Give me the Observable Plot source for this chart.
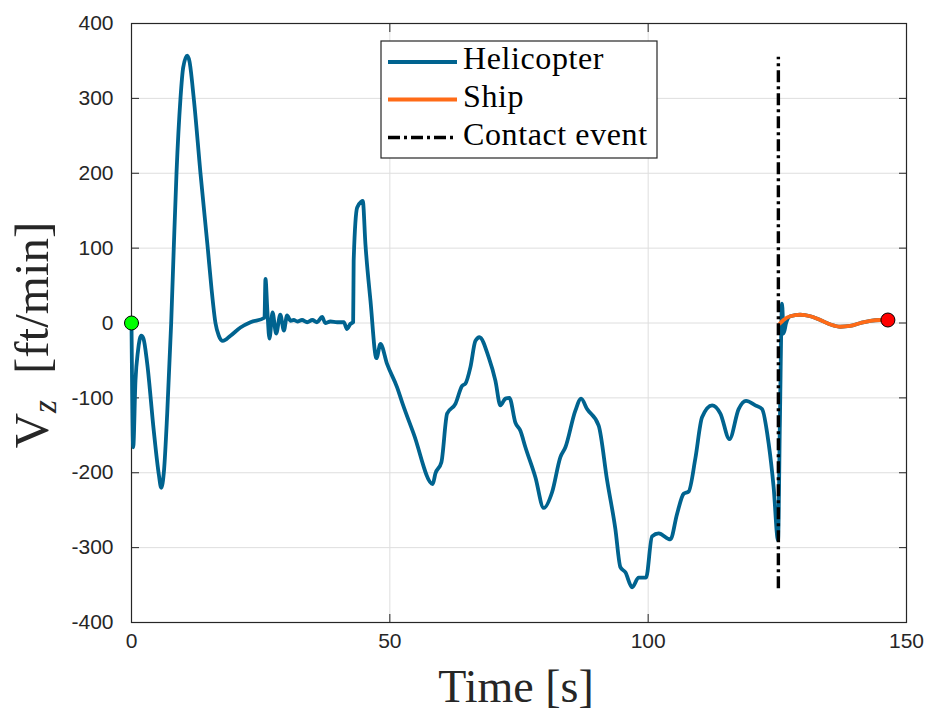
<!DOCTYPE html>
<html>
<head>
<meta charset="utf-8">
<script src="https://cdn.jsdelivr.net/npm/d3@7"></script>
<script src="https://cdn.jsdelivr.net/npm/@observablehq/plot@0.6"></script>
<style>
  html, body { margin: 0; padding: 0; background: #fff; }
  #chart { width: 928px; height: 716px; }
</style>
</head>
<body>
<div id="chart"></div>
<script>
// ---- Data ----
const heliTime = [
  0,0.33,0.77,1.26,1.88,2.32,3.04,4.31,5.28,5.75,
  6.29,6.91,7.68,8.18,8.71,9.48,10.0,10.78,11.2,12.05,
  13.35,14.76,15.5,16.25,16.9,17.67,19.16,21.09,23.03,25.74,
  25.93,26.3,26.7,27.3,28.0,28.8,29.5,30.1,30.8,31.4,
  32.1,33.0,34.0,35.0,35.9,36.9,37.5,38.5,39.8,41.1,
  41.7,42.4,42.9,43.0,43.67,44.45,44.76,45.28,46.25,47.41,
  48.18,49.48,51.41,52.38,54.62,58.30,58.82,59.98,61.09,62.69,
  63.99,64.63,65.60,66.56,67.34,69.14,70.43,71.40,72.37,73.14,
  74.30,75.27,76.24,78.17,79.78,81.40,83.01,83.98,85.91,87.02,
  88.18,90.42,92.05,93.65,94.62,95.59,96.89,98.16,99.59,100.75,
  102.03,104.30,105.59,106.87,107.84,109.13,110.43,112.37,113.98,115.73,
  117.51,118.94,120.74,122.04,123.32,124.28,125.13,125.5,125.91,126.22,
  126.7,127.5,129.4,131.4,133.3,135.3,137.2,139.1,141.1,143.0,
  144.9,146.4
];
const heliVz = [
  0,-166,-77,-37,-17,-21,-54,-144,-202,-220,
  -197,-121,0,100,200,300,341,357,350,300,
  200,100,45,0,-17,-24,-17,-6,1,7,
  59,16,-21,14,-14,11,-10,10,3,4,
  2,4,1,4,1,8,0,2,1,1,
  -8,-1,1,83,154,162,163,105,30,-47,
  -28,-55,-86,-106,-148,-215,-201,-186,-121,-108,
  -84,-81,-59,-24,-19,-46,-77,-110,-101,-100,
  -133,-144,-166,-206,-247,-226,-179,-166,-117,-101,
  -115,-137,-210,-275,-326,-333,-353,-340,-340,-285,
  -281,-289,-255,-228,-225,-181,-126,-110,-121,-155,
  -115,-104,-110,-115,-161,-219,-290,-130,26,-14,
  0,9,11,9,4,-2,-5,-4,0,3,
  4,4
];
const shipTime = [125.45,126.2,127.5,129.4,131.4,133.3,135.3,137.2,139.1,141.1,143.0,144.9,146.4];
const shipVz   = [-1,4,9,11,9,4,-2,-5,-4,0,3,4,4];

const contactTime = 125.2;
const contactVzRange = [-355, 355];

const startPoint = {t: 0, v: 0};
const endPoint = {t: 146.4, v: 4};

const xTicks = [0, 50, 100, 150];
const yTicks = [-400, -300, -200, -100, 0, 100, 200, 300, 400];

const seriesNames = ["Helicopter", "Ship", "Contact event"];
const colors = {heli: "#00638f", ship: "#ff6b17", contact: "#000000"};

// ---- Build tables ----
const heli = heliTime.map((t, i) => ({t, v: heliVz[i]}));
const ship = shipTime.map((t, i) => ({t, v: shipVz[i]}));

const axisColor = "#262626";
const sans = "'Liberation Sans', Arial, Helvetica, sans-serif";
const serif = "'Liberation Serif', 'Times New Roman', serif";
const fmt = d => String(d);

const plot = Plot.plot({
  width: 928,
  height: 716,
  marginLeft: 131,
  marginRight: 22,
  marginTop: 23,
  marginBottom: 94,
  style: {fontFamily: sans, fontSize: "21px", color: axisColor, background: "#fff", overflow: "visible"},
  x: {domain: [0, 150]},
  y: {domain: [-400, 400]},
  marks: [
    Plot.gridX(xTicks, {stroke: "#dedede", strokeOpacity: 1}),
    Plot.gridY(yTicks, {stroke: "#dedede", strokeOpacity: 1}),
    Plot.frame({stroke: axisColor, strokeWidth: 1.2}),
    // tick labels
    Plot.axisY(yTicks, {anchor: "left", tickSize: 0, tickPadding: 18, label: null, fill: axisColor, tickFormat: fmt}),
    Plot.axisX(xTicks, {anchor: "bottom", tickSize: 0, tickPadding: 11, label: null, fill: axisColor, tickFormat: fmt}),
    // inward ticks on all four sides
    Plot.axisY(yTicks, {anchor: "left", tickSize: 8, dx: 8, fill: "none", label: null, stroke: axisColor}),
    Plot.axisY(yTicks, {anchor: "right", tickSize: 8, dx: -8, fill: "none", label: null, stroke: axisColor}),
    Plot.axisX(xTicks, {anchor: "bottom", tickSize: 8, dy: -8, fill: "none", label: null, stroke: axisColor}),
    Plot.axisX(xTicks, {anchor: "top", tickSize: 8, dy: 8, fill: "none", label: null, stroke: axisColor}),
    // series
    Plot.line(heli, {x: "t", y: "v", stroke: colors.heli, strokeWidth: 3.8, curve: "monotone-x"}),
    Plot.line(ship, {x: "t", y: "v", stroke: colors.ship, strokeWidth: 3.8, curve: "monotone-x"}),
    Plot.ruleX([contactTime], {y1: contactVzRange[0], y2: contactVzRange[1], stroke: colors.contact, strokeWidth: 3.4, strokeDasharray: "12,4,3,4"}),
    Plot.dot([startPoint], {x: "t", y: "v", r: 7, fill: "#00ff00", stroke: "#000", strokeWidth: 1}),
    Plot.dot([endPoint], {x: "t", y: "v", r: 7, fill: "#ff0000", stroke: "#000", strokeWidth: 1})
  ]
});

document.getElementById("chart").appendChild(plot);

// ---- Axis titles and legend (real SVG text) ----
const svg = d3.select(plot);

// y label: V_z [ft/min]
const yl = svg.append("text")
  .attr("transform", "translate(48,335) rotate(-90)")
  .attr("text-anchor", "middle")
  .attr("font-family", serif)
  .attr("font-size", 49)
  .attr("fill", axisColor);
yl.append("tspan").text("V");
yl.append("tspan").attr("font-size", 33).attr("font-style", "italic").attr("dy", 8).text("z");
yl.append("tspan").attr("dy", -8).attr("dx", 26).text("[ft/min]");

// x label
svg.append("text")
  .attr("x", 516)
  .attr("y", 702)
  .attr("text-anchor", "middle")
  .attr("font-family", serif)
  .attr("font-size", 46)
  .attr("fill", axisColor)
  .text("Time [s]");

// legend
const lg = svg.append("g").attr("text-anchor", "start");
lg.append("rect")
  .attr("x", 381).attr("y", 41).attr("width", 276).attr("height", 117)
  .attr("fill", "#fff").attr("stroke", axisColor).attr("stroke-width", 1.2);
const legendRows = [
  {name: seriesNames[0], color: colors.heli, dash: null, ly: 62, ty: 69},
  {name: seriesNames[1], color: colors.ship, dash: null, ly: 99.5, ty: 107},
  {name: seriesNames[2], color: colors.contact, dash: "12,4,3,4", ly: 137.5, ty: 145}
];
legendRows.forEach(r => {
  const ln = lg.append("line")
    .attr("x1", 388).attr("x2", 457).attr("y1", r.ly).attr("y2", r.ly)
    .attr("stroke", r.color).attr("stroke-width", r.dash ? 3.4 : 3.8);
  if (r.dash) ln.attr("stroke-dasharray", r.dash);
  lg.append("text")
    .attr("x", 463).attr("y", r.ty)
    .attr("text-anchor", "start")
    .attr("font-family", serif).attr("font-size", 32).attr("letter-spacing", 0.6).attr("fill", "#000")
    .text(r.name);
});
</script>
</body>
</html>
